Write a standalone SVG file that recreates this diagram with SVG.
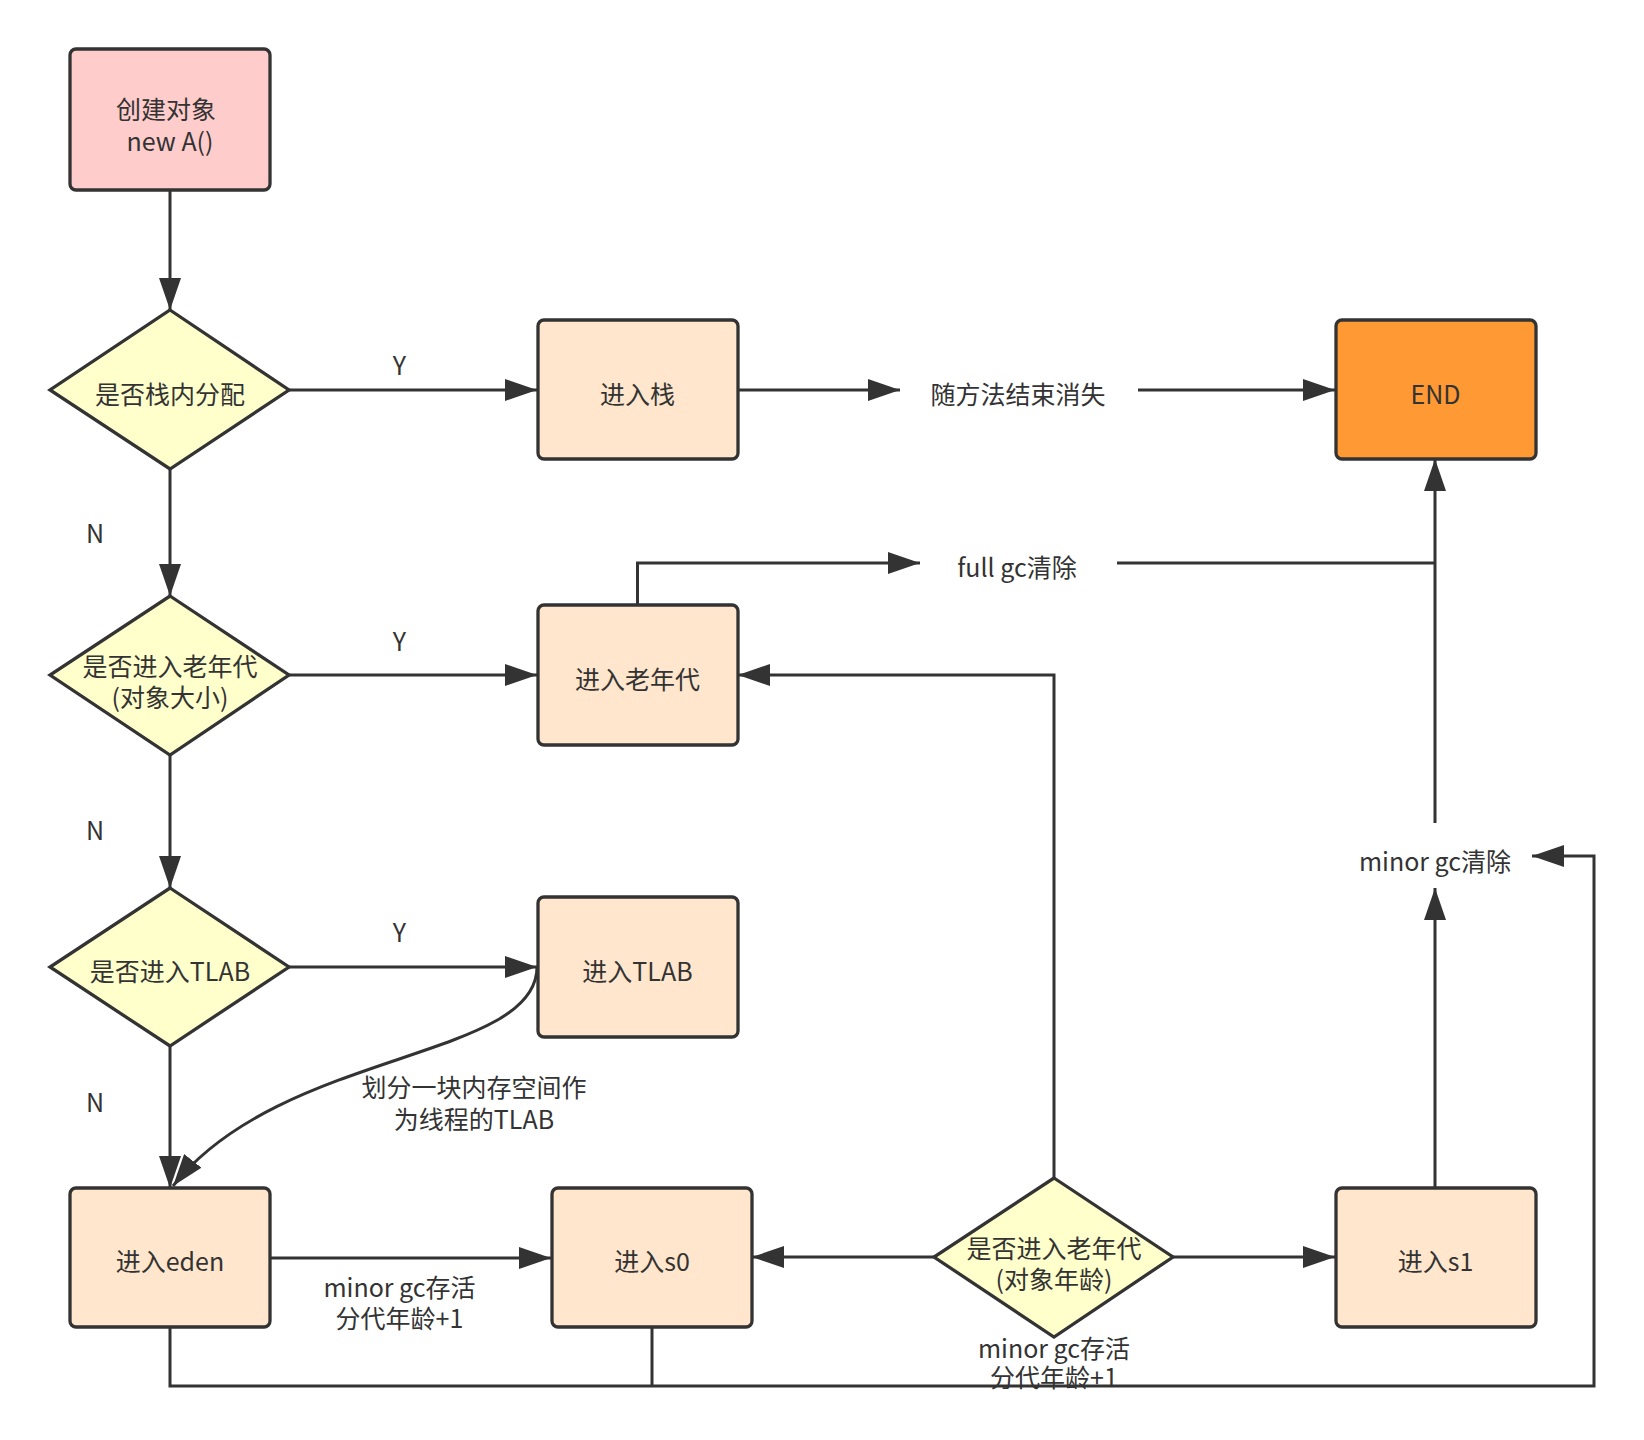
<svg xmlns="http://www.w3.org/2000/svg" width="1644" height="1440" viewBox="0 0 1644 1440">
<defs>
<marker id="arr" markerUnits="userSpaceOnUse" markerWidth="32" markerHeight="22" refX="32" refY="11" orient="auto" viewBox="0 0 32 22">
<path d="M0,0 L32,11 L0,22 Z" fill="#333333"/>
</marker>
<style>
.t{font-family:"Noto Sans CJK SC","Noto Sans",sans-serif;font-size:25px;fill:#333333;text-anchor:middle;dominant-baseline:central}
.n{stroke:#333333;stroke-width:3.3}
.box{fill:#FFE6CC}
.dia{fill:#FFFFCC}
.c{fill:none;stroke:#333333;stroke-width:3}
.ca{fill:none;stroke:#333333;stroke-width:3;marker-end:url(#arr)}
</style>
</defs>
<rect width="1644" height="1440" fill="#FFFFFF"/>
<g id="connectors">
<path class="ca" d="M170,190 L170,310"/>
<path class="ca" d="M289,390 L537,390"/>
<path class="ca" d="M170,469 L170,596"/>
<path class="ca" d="M289,675 L537,675"/>
<path class="ca" d="M170,755 L170,888"/>
<path class="ca" d="M289,967 L537,967"/>
<path class="ca" d="M170,1046 L170,1188"/>
<path class="ca" d="M537,967 C537,1060 280,1050 173,1186"/>
<path class="ca" d="M738,390 L900,390"/>
<path class="ca" d="M1138,390 L1335,390"/>
<path class="ca" d="M637.5,605 L637.5,563 L920,563"/>
<path class="c" d="M1117,563 L1435,563"/>
<path class="ca" d="M1435,823 L1435,459"/>
<path class="ca" d="M270,1258 L551,1258"/>
<path class="ca" d="M934,1257 L752,1257"/>
<path class="ca" d="M1173,1257 L1335,1257"/>
<path class="ca" d="M1054,1178 L1054,675 L738,675"/>
<path class="ca" d="M1435,1188 L1435,888"/>
<path class="c" d="M652,1327 L652,1386"/>
<text class="t" x="399.5" y="364">Y</text>
<text class="t" x="399.5" y="640">Y</text>
<text class="t" x="399.5" y="931">Y</text>
<text class="t" x="95" y="532">N</text>
<text class="t" x="95" y="829">N</text>
<text class="t" x="95" y="1101">N</text>
<text class="t"><tspan x="474" y="1086">划分一块内存空间作</tspan><tspan x="474" y="1118">为线程的TLAB</tspan></text>
<text class="t"><tspan x="399.5" y="1286">minor gc存活</tspan><tspan x="399.5" y="1317">分代年龄+1</tspan></text>
<text class="t"><tspan x="1054" y="1347">minor gc存活</tspan><tspan x="1054" y="1376">分代年龄+1</tspan></text>
<path class="ca" d="M170,1327 L170,1386 L1594,1386 L1594,856 L1532,856"/>
</g>
<g id="start">
<rect class="n" x="70" y="49" width="200" height="141" rx="6" fill="#FFCCCC"/>
<text class="t"><tspan x="166" y="108">创建对象</tspan><tspan x="170" y="140">new A()</tspan></text>
</g>
<g id="d_stack">
<polygon class="n dia" points="170,310 289,390 170,469 50,390"/>
<text class="t" x="170" y="393">是否栈内分配</text>
</g>
<g id="d_old_size">
<polygon class="n dia" points="170,596 289,675 170,755 50,675"/>
<text class="t"><tspan x="170" y="665">是否进入老年代</tspan><tspan x="170" y="696">(对象大小)</tspan></text>
</g>
<g id="d_tlab">
<polygon class="n dia" points="170,888 289,967 170,1046 50,967"/>
<text class="t" x="170" y="970">是否进入TLAB</text>
</g>
<g id="stack">
<rect class="n box" x="538" y="320" width="200" height="139" rx="6"/>
<text class="t" x="637.5" y="393">进入栈</text>
</g>
<g id="old">
<rect class="n box" x="538" y="605" width="200" height="140" rx="6"/>
<text class="t" x="637.5" y="678">进入老年代</text>
</g>
<g id="tlab">
<rect class="n box" x="538" y="897" width="200" height="140" rx="6"/>
<text class="t" x="637.5" y="970">进入TLAB</text>
</g>
<g id="eden">
<rect class="n box" x="70" y="1188" width="200" height="139" rx="6"/>
<text class="t" x="170" y="1260">进入eden</text>
</g>
<g id="s0">
<rect class="n box" x="552" y="1188" width="200" height="139" rx="6"/>
<text class="t" x="652" y="1260">进入s0</text>
</g>
<g id="d_old_age">
<polygon class="n dia" points="1054,1178 1173,1257 1054,1337 934,1257"/>
<text class="t"><tspan x="1054" y="1247">是否进入老年代</tspan><tspan x="1054" y="1278">(对象年龄)</tspan></text>
</g>
<g id="s1">
<rect class="n box" x="1336" y="1188" width="200" height="139" rx="6"/>
<text class="t" x="1435.5" y="1260">进入s1</text>
</g>
<g id="end">
<rect class="n" x="1336" y="320" width="200" height="139" rx="6" fill="#FF9933"/>
<text class="t" x="1435.5" y="393">END</text>
</g>
<g id="lbl_method">
<text class="t" x="1018" y="393">随方法结束消失</text>
</g>
<g id="lbl_fullgc">
<text class="t" x="1017" y="566">full gc清除</text>
</g>
<g id="lbl_minorgc">
<text class="t" x="1435" y="860">minor gc清除</text>
</g>
</svg>
